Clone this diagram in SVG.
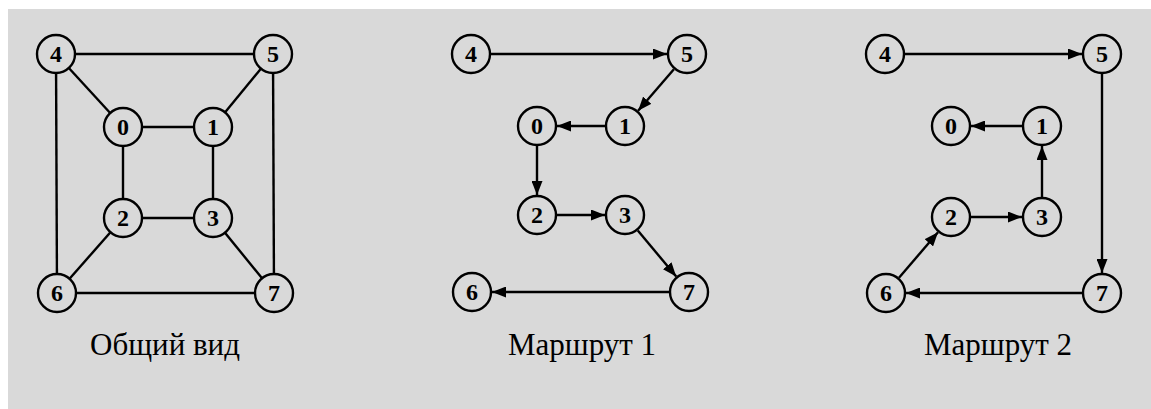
<svg xmlns="http://www.w3.org/2000/svg" width="1151" height="409" viewBox="0 0 1151 409">
<style>
.n circle{fill:#d9d9d9;stroke:#000;stroke-width:2.4}
.n text{font-family:"Liberation Serif","Times New Roman",serif;font-weight:bold;font-size:24px;text-anchor:middle;fill:#000}
.e line{stroke:#000;stroke-width:2.4}
.a line{stroke:#000;stroke-width:2.4;marker-end:url(#ah)}
.cap{font-family:"Liberation Serif","Times New Roman",serif;font-size:31px;text-anchor:middle;fill:#000}
</style>
<defs>
<marker id="ah" markerUnits="userSpaceOnUse" markerWidth="14" markerHeight="11" refX="14" refY="5.5" orient="auto">
<path d="M0,0 L14,5.5 L0,11 z" fill="#000"/>
</marker>
</defs>
<rect x="0" y="0" width="1151" height="409" fill="#ffffff"/>
<rect x="8" y="9" width="1143" height="400" fill="#d9d9d9"/>

<g id="connectors">
<g class="e">
<line x1="56" y1="54" x2="273" y2="54"/>
<line x1="56" y1="54" x2="123" y2="127"/>
<line x1="56" y1="54" x2="57" y2="293"/>
<line x1="273" y1="54" x2="213" y2="127"/>
<line x1="273" y1="54" x2="274" y2="293"/>
<line x1="123" y1="127" x2="213" y2="127"/>
<line x1="123" y1="127" x2="123" y2="218"/>
<line x1="213" y1="127" x2="213" y2="218"/>
<line x1="123" y1="218" x2="213" y2="218"/>
<line x1="123" y1="218" x2="57" y2="293"/>
<line x1="213" y1="218" x2="274" y2="293"/>
<line x1="57" y1="293" x2="274" y2="293"/>
</g>
<g class="a">
<line x1="491" y1="54" x2="667" y2="54"/>
<line x1="673.9" y1="69.2" x2="638.1" y2="110.8"/>
<line x1="605" y1="126" x2="557" y2="126"/>
<line x1="537" y1="146" x2="537" y2="195"/>
<line x1="557" y1="215" x2="605" y2="215"/>
<line x1="637.8" y1="230.4" x2="676.2" y2="276.6"/>
<line x1="669" y1="292" x2="492" y2="292"/>
</g>
<g class="a">
<line x1="905" y1="54" x2="1082" y2="54"/>
<line x1="1102" y1="74" x2="1102" y2="273"/>
<line x1="1082" y1="293" x2="906" y2="293"/>
<line x1="899" y1="277.8" x2="938" y2="232.2"/>
<line x1="971" y1="217" x2="1022" y2="217"/>
<line x1="1042" y1="197" x2="1042" y2="146"/>
<line x1="1022" y1="126" x2="971" y2="126"/>
</g>
</g>

<g id="overview">
<g id="g0-4" class="n"><circle cx="56" cy="54" r="19"/><text x="56" y="62">4</text></g>
<g id="g0-5" class="n"><circle cx="273" cy="54" r="19"/><text x="273" y="62">5</text></g>
<g id="g0-0" class="n"><circle cx="123" cy="127" r="19"/><text x="123" y="135">0</text></g>
<g id="g0-1" class="n"><circle cx="213" cy="127" r="19"/><text x="213" y="135">1</text></g>
<g id="g0-2" class="n"><circle cx="123" cy="218" r="19"/><text x="123" y="226">2</text></g>
<g id="g0-3" class="n"><circle cx="213" cy="218" r="19"/><text x="213" y="226">3</text></g>
<g id="g0-6" class="n"><circle cx="57" cy="293" r="19"/><text x="57" y="301">6</text></g>
<g id="g0-7" class="n"><circle cx="274" cy="293" r="19"/><text x="274" y="301">7</text></g>
</g>

<g id="route1">
<g id="g1-4" class="n"><circle cx="471" cy="54" r="19"/><text x="471" y="62">4</text></g>
<g id="g1-5" class="n"><circle cx="687" cy="54" r="19"/><text x="687" y="62">5</text></g>
<g id="g1-0" class="n"><circle cx="537" cy="126" r="19"/><text x="537" y="134">0</text></g>
<g id="g1-1" class="n"><circle cx="625" cy="126" r="19"/><text x="625" y="134">1</text></g>
<g id="g1-2" class="n"><circle cx="537" cy="215" r="19"/><text x="537" y="223">2</text></g>
<g id="g1-3" class="n"><circle cx="625" cy="215" r="19"/><text x="625" y="223">3</text></g>
<g id="g1-6" class="n"><circle cx="472" cy="292" r="19"/><text x="472" y="300">6</text></g>
<g id="g1-7" class="n"><circle cx="689" cy="292" r="19"/><text x="689" y="300">7</text></g>
</g>

<g id="route2">
<g id="g2-4" class="n"><circle cx="885" cy="54" r="19"/><text x="885" y="62">4</text></g>
<g id="g2-5" class="n"><circle cx="1102" cy="54" r="19"/><text x="1102" y="62">5</text></g>
<g id="g2-0" class="n"><circle cx="951" cy="126" r="19"/><text x="951" y="134">0</text></g>
<g id="g2-1" class="n"><circle cx="1042" cy="126" r="19"/><text x="1042" y="134">1</text></g>
<g id="g2-2" class="n"><circle cx="951" cy="217" r="19"/><text x="951" y="225">2</text></g>
<g id="g2-3" class="n"><circle cx="1042" cy="217" r="19"/><text x="1042" y="225">3</text></g>
<g id="g2-6" class="n"><circle cx="886" cy="293" r="19"/><text x="886" y="301">6</text></g>
<g id="g2-7" class="n"><circle cx="1102" cy="293" r="19"/><text x="1102" y="301">7</text></g>
</g>

<g id="captions">
<text class="cap" x="165" y="355">Общий вид</text>
<text class="cap" x="582" y="355">Маршрут 1</text>
<text class="cap" x="998" y="355">Маршрут 2</text>
</g>
</svg>
